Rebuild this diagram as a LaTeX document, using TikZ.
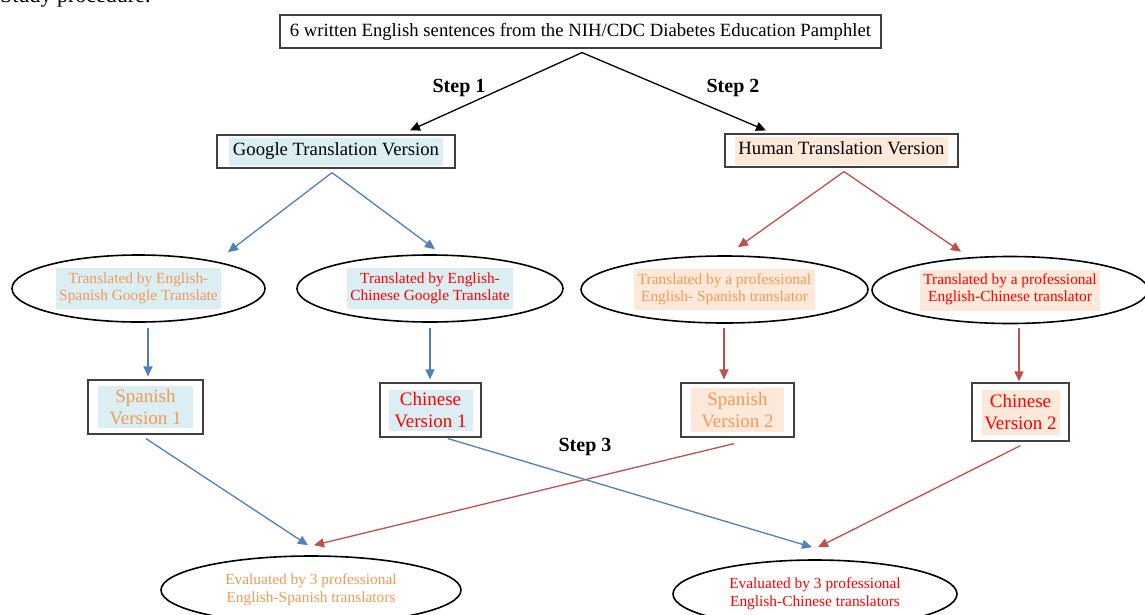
\documentclass[tikz,border=0pt]{standalone}
\usepackage{fontspec}
\setmainfont{Liberation Serif}
\usetikzlibrary{arrows.meta,shapes.geometric,calc}
\definecolor{lb}{HTML}{DAEEF3}
\definecolor{pch}{HTML}{FDE9D9}
\definecolor{orng}{HTML}{F39A55}
\definecolor{rd}{HTML}{FF0000}
\definecolor{bl}{HTML}{4F81BD}
\definecolor{rl}{HTML}{C0504D}
\newcommand\mybg[3]{{\setlength{\fboxsep}{3.5pt}\colorbox{#1}{\color{#2}\begin{tabular}{@{}c@{}}#3\end{tabular}}}}
\newcommand\myvbg[5]{{\setlength{\fboxsep}{0pt}\colorbox{#1}{\parbox[c][#4pt][c]{#3pt}{\centering\color{#2}#5}}}}
\begin{document}
\begin{tikzpicture}[x=1pt,y=-1pt,
  box/.style={draw=black!75,line width=1.2pt,rectangle,inner sep=0pt},
  ell/.style={draw=black,line width=1.6pt,ellipse,inner sep=0pt},
  steplbl/.style={font=\fontsize{20}{22}\selectfont\bfseries,inner sep=0pt},
  karr/.style={draw=black,line width=1.3pt,-{Triangle[length=10pt,width=9pt]}},
  barr/.style={draw=bl,line width=1.3pt,-{Triangle[length=10pt,width=9pt]}},
  rarr/.style={draw=rl,line width=1.3pt,-{Triangle[length=10pt,width=9pt]}},
  etxt/.style={font=\fontsize{15.4}{17}\selectfont},
  btxt/.style={font=\fontsize{15.4}{18}\selectfont},
  vtxt/.style={font=\fontsize{19}{22}\selectfont},
  htxt/.style={font=\fontsize{18.7}{21}\selectfont}]
\useasboundingbox (0,0) rectangle (1145,614);
\fill[white] (0,0) rectangle (1145,614);
\node[anchor=base west,inner sep=0pt,font=\fontsize{22}{24}\selectfont] (title) at (0,2.5) {Study procedure.};
% top
\node[box,htxt,minimum width=601,minimum height=33] (top) at (580.5,31.5) {6 written English sentences from the NIH/CDC Diabetes Education Pamphlet};
\node[box,htxt,minimum width=238,minimum height=33] (google) at (336,151.5) {\mybg{lb}{black}{Google Translation Version}};
\node[box,htxt,minimum width=233,minimum height=33] (human) at (841.5,150.5) {\mybg{pch}{black}{Human Translation Version}};
\node[steplbl] (s1) at (459,88) {Step 1};
\node[steplbl] (s2) at (733,88) {Step 2};
\node[steplbl] (s3) at (585,447) {Step 3};
% ellipses
\node[ell,etxt,minimum width=253,minimum height=67] (e1) at (138.5,288.5) {\mybg{lb}{orng}{Translated by English-\\Spanish Google Translate}};
\node[ell,etxt,minimum width=266,minimum height=67] (e2) at (430,288.5) {\mybg{lb}{rd}{Translated by English-\\Chinese Google Translate}};
\node[ell,etxt,minimum width=287,minimum height=67] (e3) at (724.5,289.5) {\mybg{pch}{orng}{Translated by a professional\\English- Spanish translator}};
\node[ell,etxt,minimum width=276,minimum height=67] (e4) at (1010,290) {\mybg{pch}{rd}{Translated by a professional\\English-Chinese translator}};
% version boxes
\node[box,vtxt,minimum width=115,minimum height=54] (sv1) at (145.5,407) {\myvbg{lb}{orng}{95}{42}{Spanish\\Version 1}};
\node[box,vtxt,minimum width=101,minimum height=54] (cv1) at (430.5,410) {\myvbg{lb}{rd}{84}{41}{Chinese\\Version 1}};
\node[box,vtxt,minimum width=113,minimum height=54] (sv2) at (737.5,410) {\myvbg{pch}{orng}{93}{44}{Spanish\\Version 2}};
\node[box,vtxt,minimum width=97,minimum height=58] (cv2) at (1020.5,412) {\myvbg{pch}{rd}{78}{45}{Chinese\\Version 2}};
% bottom ellipses
\node[ell,btxt,minimum width=300,minimum height=68] (ev1) at (311,590) {\color{orng}\begin{tabular}{@{}c@{}}Evaluated by 3 professional\\English-Spanish translators\end{tabular}};
\node[ell,btxt,minimum width=284,minimum height=68] (ev2) at (815,594) {\color{rd}\begin{tabular}{@{}c@{}}Evaluated by 3 professional\\English-Chinese translators\end{tabular}};
% connectors
\draw[karr] ($(top.south)+(1.5,4)$) -- ($(google.north)+(74,-4)$);
\draw[karr] ($(top.south)+(1.5,4)$) -- ($(human.north)+(-75.5,-3)$);
\draw[barr] ($(google.south)+(-4,4)$) -- ($(e1.north)+(89.5,-2)$);
\draw[barr] ($(google.south)+(-4,4)$) -- ($(e2.north)+(5,-5)$);
\draw[rarr] ($(human.south)+(2.5,4)$) -- ($(e3.north)+(13.5,-8)$);
\draw[rarr] ($(human.south)+(2.5,4)$) -- ($(e4.north)+(-49,-4)$);
\draw[barr] ($(e1.south)+(9.5,5)$) -- ($(sv1.north)+(2.5,-3)$);
\draw[barr] ($(e2.south)+(0,5)$) -- ($(cv1.north)+(-0.5,-3)$);
\draw[rarr] ($(e3.south)+(-0.5,4)$) -- ($(sv2.north)+(-13.5,-3)$);
\draw[rarr] ($(e4.south)+(9,4)$) -- ($(cv2.north)+(-1.5,-1)$);
\draw[barr] ($(sv1.south)+(0.5,4)$) -- ($(ev1.north)+(-3,-10)$);
\draw[rarr] ($(sv2.south)+(-3.5,6)$) -- ($(ev1.north)+(3,-10)$);
\draw[barr] ($(cv1.south)+(17.5,1)$) -- ($(ev2.north)+(-3,-12)$);
\draw[rarr] ($(cv2.south)+(0,4)$) -- ($(ev2.north)+(3,-12)$);
\end{tikzpicture}
\end{document}
